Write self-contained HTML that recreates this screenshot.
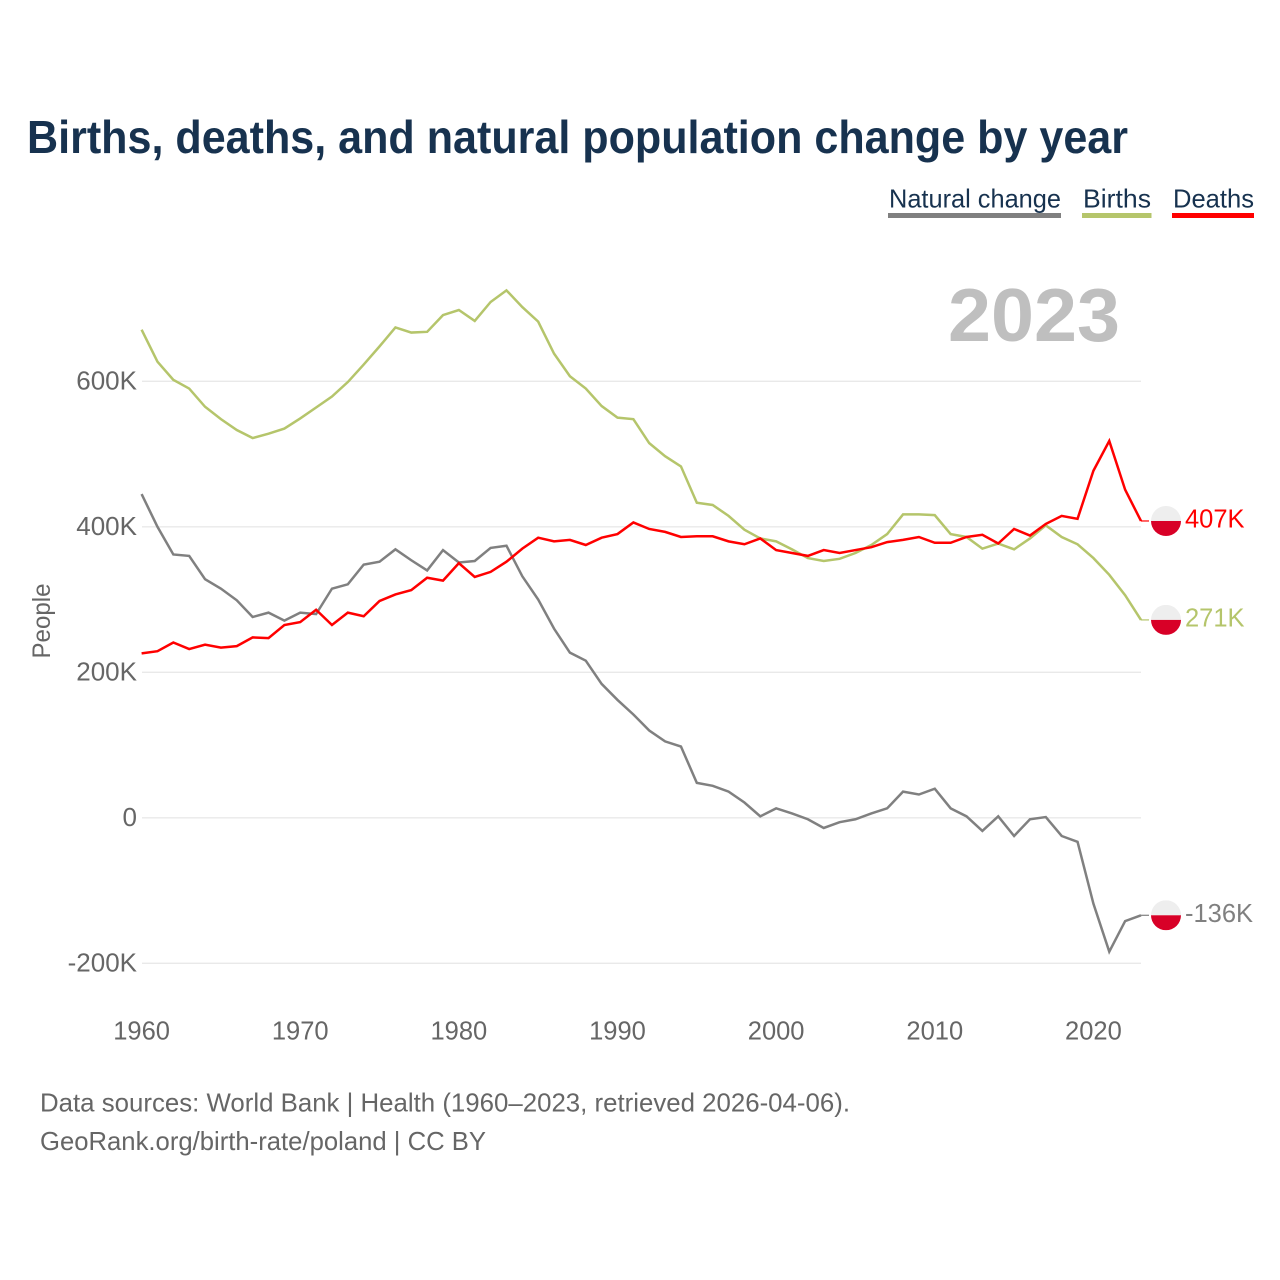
<!DOCTYPE html>
<html lang="en">
<head>
<meta charset="utf-8">
<title>Births, deaths, and natural population change by year</title>
<style>
html,body{margin:0;padding:0;background:#fff;}
svg{display:block;font-family:"Liberation Sans",sans-serif;}
</style>
</head>
<body>
<svg id="chart" xmlns="http://www.w3.org/2000/svg" width="1280" height="1280" viewBox="0 0 1280 1280">
  <rect width="1280" height="1280" fill="#ffffff"/>
  <text x="27" y="153" font-size="46" font-weight="700" fill="#17324f" textLength="1101" lengthAdjust="spacingAndGlyphs">Births, deaths, and natural population change by year</text>

  <g>
    <g>
      <text x="889" y="207.5" font-size="26" fill="#17324f" textLength="172" lengthAdjust="spacingAndGlyphs">Natural change</text>
      <rect x="888" y="213" width="173" height="5" fill="#808080"/>
    </g>
    <g>
      <text x="1083" y="207.5" font-size="26" fill="#17324f" textLength="68" lengthAdjust="spacingAndGlyphs">Births</text>
      <rect x="1082" y="213" width="69.5" height="5" fill="#b5c56b"/>
    </g>
    <g>
      <text x="1173" y="207.5" font-size="26" fill="#17324f" textLength="81" lengthAdjust="spacingAndGlyphs">Deaths</text>
      <rect x="1172" y="213" width="82" height="5" fill="#ff0000"/>
    </g>
  </g>

  <g id="grid"></g>
  <text x="1120" y="341" text-anchor="end" font-size="75" font-weight="700" fill="#bfbfbf" textLength="172" lengthAdjust="spacingAndGlyphs">2023</text>
  <g id="yticks"></g>
  <g id="xticks"></g>
  <text transform="translate(50,621) rotate(-90)" text-anchor="middle" font-size="25" fill="#666666" textLength="75" lengthAdjust="spacingAndGlyphs">People</text>
  <g id="series"></g>
  <g id="ends"></g>

  <g>
    <text x="40" y="1111.5" font-size="26" fill="#666666" textLength="810" lengthAdjust="spacingAndGlyphs">Data sources: World Bank | Health (1960–2023, retrieved 2026-04-06).</text>
    <text x="40" y="1150" font-size="26" fill="#666666" textLength="446" lengthAdjust="spacingAndGlyphs">GeoRank.org/birth-rate/poland | CC BY</text>
  </g>
</svg>
<script>
const startYear = 1960;
const endYear = 2023;
const yTickValues = [600, 400, 200, 0, -200];
const yTickLabels = ["600K", "400K", "200K", "0", "-200K"];
const xTickValues = [1960, 1970, 1980, 1990, 2000, 2010, 2020];
const naturalChange = [445,400,362,360,328,315,299,276,282,271,282,280,315,321,348,352,369,354,340,368,351,353,371,374,332,300,260,227,216,184,162,142,120,105,98,48,44,36,21,2,13,6,-2,-14,-6,-2,6,13,36,32,40,13,2,-18,2,-25,-2,1,-25,-33,-118,-184,-142,-134];
const births = [671,627,602,590,565,548,533,522,528,535,549,564,579,599,623,648,674,667,668,691,698,683,709,725,702,682,638,607,590,566,550,548,515,497,483,433,430,415,396,384,380,369,357,353,356,364,375,390,417,417,416,390,386,370,377,369,384,402,386,376,357,334,306,272];
const deaths = [226,229,241,232,238,234,236,248,247,265,269,286,265,282,277,298,307,313,330,326,350,331,338,352,370,385,380,382,375,385,390,406,397,393,386,387,387,380,376,384,368,364,360,368,364,368,372,379,382,386,378,378,386,389,377,397,388,404,415,411,477,518,451,408];
const endLabels = ["-136K", "271K", "407K"];

const NS = "http://www.w3.org/2000/svg";
function xScale(year) { return 141.6 + (year - startYear) * (1141 - 141.6) / (endYear - startYear); }
function yScale(v) { return 817.8 - v * 0.7275; }
function mk(tag, parent, attrs) {
  const el = document.createElementNS(NS, tag);
  for (const k in attrs) el.setAttribute(k, attrs[k]);
  parent.appendChild(el);
  return el;
}

const grid = document.getElementById("grid");
const yticks = document.getElementById("yticks");
yTickValues.forEach(function (v, i) {
  const line = mk("line", grid, {x1: 142, x2: 1141, y1: yScale(v), y2: yScale(v), stroke: "#e9e9e9", "stroke-width": 1.3});
  
  
  const t = mk("text", yticks, {x: 137, y: yScale(v) + 8, "text-anchor": "end", "font-size": 26, fill: "#666666"});
  t.textContent = yTickLabels[i];
  
  
});

const xticks = document.getElementById("xticks");
xTickValues.forEach(function (year) {
  const t = mk("text", xticks, {x: xScale(year), y: 1039.5, "text-anchor": "middle", "font-size": 25.5, fill: "#666666"});
  t.textContent = String(year);
  
  
});

const seriesGroup = document.getElementById("series");
const ends = document.getElementById("ends");
const defs = mk("defs", document.getElementById("chart"), {});
const seriesList = [
  {key: "natural-change", values: naturalChange, color: "#808080"},
  {key: "births", values: births, color: "#b5c56b"},
  {key: "deaths", values: deaths, color: "#ff0000"}
];
seriesList.forEach(function (s, i) {
  const pts = s.values.map(function (v, j) {
    return xScale(startYear + j).toFixed(2) + "," + yScale(v).toFixed(2);
  }).join(" ");
  const line = mk("polyline", seriesGroup, {points: pts, fill: "none", stroke: s.color, "stroke-width": 2.5, "stroke-linejoin": "miter"});
  
  

  const lastY = yScale(s.values[s.values.length - 1]);
  const stub = mk("line", ends, {x1: xScale(endYear), x2: 1149, y1: lastY, y2: lastY, stroke: s.color, "stroke-width": 1.2});
  
  

  const clip = mk("clipPath", defs, {id: "flag-clip-" + i});
  mk("circle", clip, {cx: 1166, cy: lastY, r: 15});
  const flag = mk("g", ends, {"clip-path": "url(#flag-clip-" + i + ")"});
  
  
  mk("rect", flag, {x: 1151, y: lastY - 15, width: 30, height: 15, fill: "#eeeeee"});
  mk("rect", flag, {x: 1151, y: lastY, width: 30, height: 15, fill: "#d80027"});

  const lab = mk("text", ends, {x: 1185, y: lastY + 6.5, "font-size": 25.5, fill: s.color});
  lab.textContent = endLabels[i];
  
  
});
</script>
</body>
</html>
